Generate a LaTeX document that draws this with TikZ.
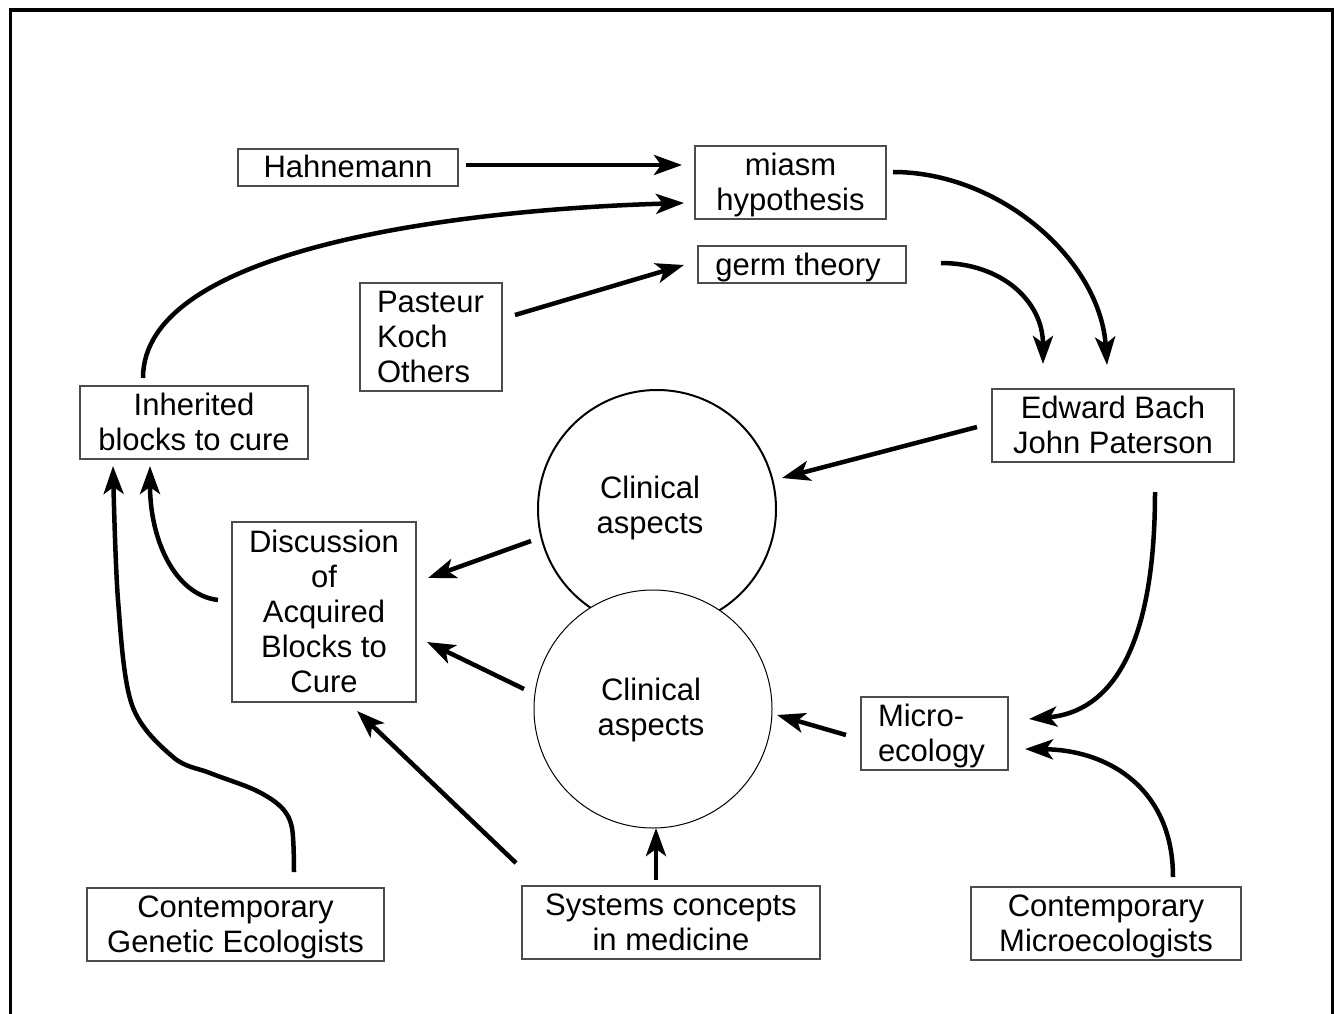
\documentclass[tikz,border=0pt]{standalone}
\usepackage{fontspec}
\setmainfont{Liberation Sans}
\usetikzlibrary{arrows.meta}
\newcommand\tstrut{\rule[-7pt]{0pt}{35pt}}
\begin{document}
\begin{tikzpicture}[x=1pt,y=-1pt,
  box/.style={draw=black!70, line width=1.2pt, inner sep=0pt, align=center, font=\fontsize{31}{35}\selectfont},
  lbox/.style={box, align=left, inner xsep=17pt},
  circ/.style={circle, draw, minimum size=238pt, inner sep=0pt},
  ctext/.style={inner sep=0pt, align=center, font=\fontsize{31}{35}\selectfont},
  arr/.style={line width=4.5pt, line join=round, -{Stealth[length=28pt,width=20pt,inset=7pt]}},
]
\useasboundingbox (0,0) rectangle (1334,1014);
\fill[white] (0,0) rectangle (1334,1014);
\draw[line width=3.5pt] (10.5,1014) -- (10.5,10) -- (1332.5,10) -- (1332.5,1014);

% boxes
\node[box, minimum width=220pt, minimum height=37pt] (hahn) at (348,167.5) {\tstrut Hahnemann};
\node[box, minimum width=191pt, minimum height=73pt] (miasm) at (790.5,182.5) {\tstrut miasm\\hypothesis\tstrut};
\node[box, minimum width=208pt, minimum height=37pt] (germ) at (802,264.5) {\tstrut germ theory\hspace{8pt}};
\node[lbox, text width=108pt, minimum height=108pt] (pas) at (431,337) {\tstrut Pasteur\\Koch\\Others\tstrut};
\node[box, minimum width=228pt, minimum height=73pt] (inh) at (194,422.5) {\tstrut Inherited\\blocks to cure\tstrut};
\node[box, minimum width=242pt, minimum height=73pt] (bach) at (1113,425.5) {\tstrut Edward Bach\\John Paterson\tstrut};
\node[box, minimum width=184pt, minimum height=180pt] (disc) at (324,612) {\tstrut Discussion\\of\\Acquired\\Blocks to\\Cure\tstrut};
\node[lbox, text width=113pt, minimum height=73pt] (micro) at (934.5,733.5) {\tstrut Micro-\\ecology\tstrut};
\node[box, minimum width=297pt, minimum height=73pt] (gen) at (235.5,924.5) {\tstrut Contemporary\\Genetic Ecologists\tstrut};
\node[box, minimum width=298pt, minimum height=73pt] (sys) at (671,922.5) {\tstrut Systems concepts\\in medicine\tstrut};
\node[box, minimum width=270pt, minimum height=73pt] (mic) at (1106,923.5) {\tstrut Contemporary\\Microecologists\tstrut};

% circles
\node[circ, line width=2pt] (c1) at (657,509) {};
\node[ctext] (c1t) at (650,505) {\tstrut Clinical\\aspects\tstrut};
\node[circ, line width=1pt, fill=white] (c2) at (653,709) {};
\node[ctext] (c2t) at (651,707) {\tstrut Clinical\\aspects\tstrut};

% connector end points
\coordinate (a1s) at (466,165);  \coordinate (a1e) at (682,165);
\coordinate (a2s) at (143,378);  \coordinate (a2e) at (684,203);
\coordinate (a3s) at (515,315);  \coordinate (a3e) at (684,265);
\coordinate (a4s) at (893,172);  \coordinate (a4e) at (1107,365);
\coordinate (a5s) at (941,263);  \coordinate (a5e) at (1043,364);
\coordinate (a6s) at (977,427);  \coordinate (a6e) at (782,478);
\coordinate (a7s) at (1155,492); \coordinate (a7e) at (1029,719);
\coordinate (a8s) at (1173,877); \coordinate (a8e) at (1025,749);
\coordinate (a9s) at (846,735);  \coordinate (a9e) at (777,715);
\coordinate (a10s) at (656,880); \coordinate (a10e) at (656,828);
\coordinate (a11s) at (516,863); \coordinate (a11e) at (357,711);
\coordinate (a12s) at (524,689); \coordinate (a12e) at (427,642);
\coordinate (a13s) at (531,541); \coordinate (a13e) at (428,578);
\coordinate (a14s) at (218,600); \coordinate (a14e) at (150,466);
\coordinate (a15s) at (294,872); \coordinate (a15e) at (113,466);

% connectors
\draw[arr] (a1s) -- (a1e);
\draw[arr] (a2s) .. controls (143,250) and (450,210) .. (a2e);
\draw[arr] (a3s) -- (a3e);
\draw[arr] (a4s) .. controls (1000,172) and (1100,260) .. (a4e);
\draw[arr] (a5s) .. controls (1000,263) and (1043,300) .. (a5e);
\draw[arr] (a6s) -- (a6e);
\draw[arr] (a7s) .. controls (1155,650) and (1110,712) .. (a7e);
\draw[arr] (a8s) .. controls (1173,790) and (1110,750) .. (a8e);
\draw[arr] (a9s) -- (a9e);
\draw[arr] (a10s) -- (a10e);
\draw[arr] (a11s) -- (a11e);
\draw[arr] (a12s) -- (a12e);
\draw[arr] (a13s) -- (a13e);
\draw[arr] (a14s) .. controls (175,595) and (150,540) .. (a14e);
\draw[arr] plot[smooth, tension=0.55] coordinates {(294,872) (292,828) (281,807) (255,790) (210,773) (173,757) (132,705) (118,600) (113,466)};
\end{tikzpicture}
\end{document}
